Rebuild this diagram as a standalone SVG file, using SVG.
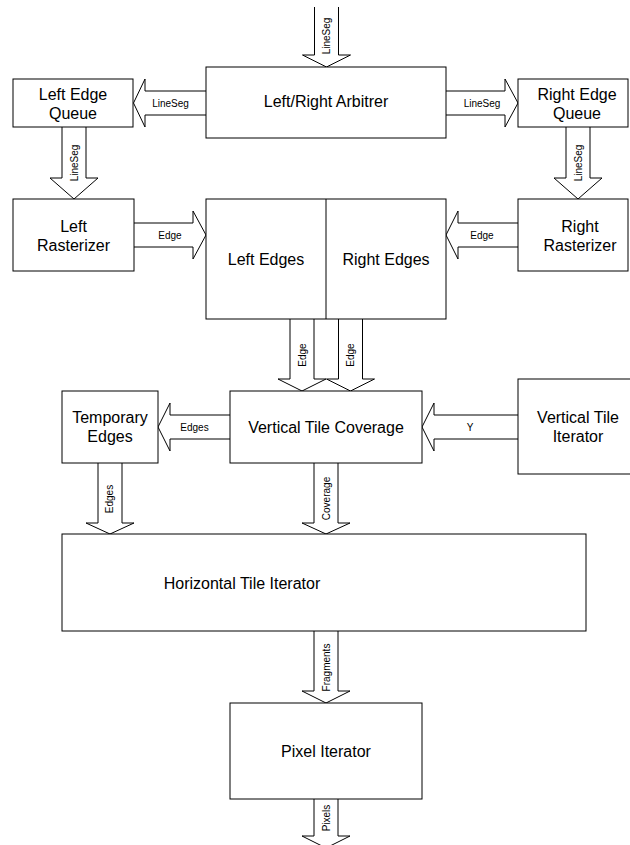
<svg xmlns="http://www.w3.org/2000/svg" width="630" height="845" viewBox="0 0 630 845">
<style>
.box{fill:#fff;stroke:#000;stroke-width:1}
.arr{fill:#fff;stroke:#000;stroke-width:1;stroke-linejoin:miter}
.t{font-family:"Liberation Sans",Arial,sans-serif;font-size:16px;fill:#000;text-anchor:middle}
.s{font-family:"Liberation Sans",Arial,sans-serif;font-size:10px;fill:#000;text-anchor:middle}
</style>
<rect width="630" height="845" fill="#fff"/>
<g id="connectors">
<path class="arr" d="M314.5,7 V55 H302.5 L326.5,67 L350.5,55 H338.5 V7"/>
<text class="s" transform="translate(330,36) rotate(-90)">LineSeg</text>
<path class="arr" d="M206,91 H145 V79 L133.5,103 L145,127 V115 H206"/>
<text class="s" x="170.5" y="106.5">LineSeg</text>
<path class="arr" d="M446,91 H505 V79 L518,103 L505,127 V115 H446"/>
<text class="s" x="482" y="106.5">LineSeg</text>
<path class="arr" d="M62,127 V178 H50 L74,199 L98,178 H86 V127"/>
<text class="s" transform="translate(77.5,163) rotate(-90)">LineSeg</text>
<path class="arr" d="M566,127 V178 H554 L578,199 L602,178 H590 V127"/>
<text class="s" transform="translate(581.5,163) rotate(-90)">LineSeg</text>
<path class="arr" d="M134,223 H193 V211 L206,235 L193,259 V247 H134"/>
<text class="s" x="170" y="238.5">Edge</text>
<path class="arr" d="M518,223 H458 V211 L446,235 L458,259 V247 H518"/>
<text class="s" x="482" y="238.5">Edge</text>
<path class="arr" d="M290,319 V379 H278 L302,391 L326,379 H314 V319"/>
<text class="s" transform="translate(305.5,355) rotate(-90)">Edge</text>
<path class="arr" d="M338.5,319 V379 H326.5 L350.5,391 L374.5,379 H362.5 V319"/>
<text class="s" transform="translate(354,355) rotate(-90)">Edge</text>
<path class="arr" d="M230,415 H170 V403 L158,427 L170,451 V439 H230"/>
<text class="s" x="194.5" y="430.5">Edges</text>
<path class="arr" d="M518,415 H434 V403 L422,427 L434,451 V439 H518"/>
<text class="s" x="470" y="430.5">Y</text>
<path class="arr" d="M98,463 V523 H86 L110,534 L134,523 H122 V463"/>
<text class="s" transform="translate(112.5,499) rotate(-90)">Edges</text>
<path class="arr" d="M314,463 V523 H302 L326,534 L350,523 H338 V463"/>
<text class="s" transform="translate(329.5,498.5) rotate(-90)">Coverage</text>
<path class="arr" d="M314,631 V691 H302 L326,703 L350,691 H338 V631"/>
<text class="s" transform="translate(329.5,667.5) rotate(-90)">Fragments</text>
<path class="arr" d="M314,799 V836 H302 L326,848 L350,836 H338 V799"/>
<text class="s" transform="translate(329.5,818) rotate(-90)">Pixels</text>
</g>
<g id="arbitrer">
<rect class="box" x="206" y="67" width="240" height="71"/>
<text class="t" x="326" y="107">Left/Right Arbitrer</text>
</g>
<g id="left-edge-queue">
<rect class="box" x="13" y="79" width="120" height="48"/>
<text class="t" x="73" y="99.5">Left Edge</text>
<text class="t" x="73" y="118.5">Queue</text>
</g>
<g id="right-edge-queue">
<rect class="box" x="518" y="79" width="110" height="48"/>
<text class="t" x="577" y="99.5">Right Edge</text>
<text class="t" x="577" y="118.5">Queue</text>
</g>
<g id="left-rasterizer">
<rect class="box" x="13" y="199" width="121" height="72"/>
<text class="t" x="73.5" y="231.5">Left</text>
<text class="t" x="73.5" y="250.5">Rasterizer</text>
</g>
<g id="right-rasterizer">
<rect class="box" x="518" y="199" width="110" height="72"/>
<text class="t" x="580" y="231.5">Right</text>
<text class="t" x="580" y="250.5">Rasterizer</text>
</g>
<g id="edges">
<rect class="box" x="206" y="199" width="240" height="120"/>
<line x1="326" y1="199" x2="326" y2="319" stroke="#000" stroke-width="1"/>
<text class="t" x="266" y="264.5">Left Edges</text>
<text class="t" x="386" y="264.5">Right Edges</text>
</g>
<g id="temporary-edges">
<rect class="box" x="62" y="391" width="96" height="72"/>
<text class="t" x="110" y="423">Temporary</text>
<text class="t" x="110" y="442">Edges</text>
</g>
<g id="vertical-tile-coverage">
<rect class="box" x="230" y="391" width="192" height="72"/>
<text class="t" x="326" y="432.5">Vertical Tile Coverage</text>
</g>
<g id="vertical-tile-iterator">
<rect class="box" x="518" y="379" width="120" height="95"/>
<text class="t" x="578" y="423">Vertical Tile</text>
<text class="t" x="578" y="442">Iterator</text>
</g>
<g id="horizontal-tile-iterator">
<rect class="box" x="62" y="534" width="524" height="97"/>
<text class="t" x="242" y="588.5">Horizontal Tile Iterator</text>
</g>
<g id="pixel-iterator">
<rect class="box" x="230" y="703" width="192" height="96"/>
<text class="t" x="326" y="756.5">Pixel Iterator</text>
</g>
</svg>
